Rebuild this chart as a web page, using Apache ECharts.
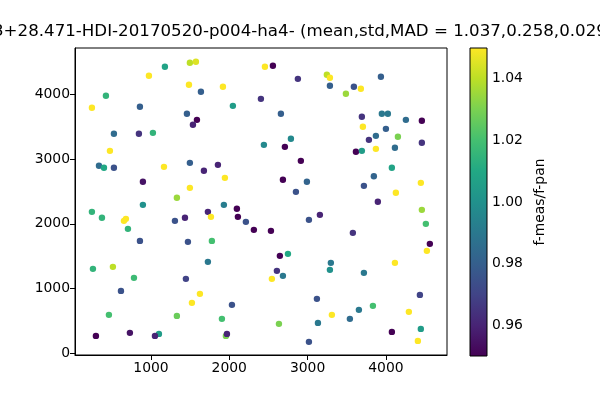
<!DOCTYPE html>
<html>
<head>
<meta charset="utf-8">
<script src="https://cdn.jsdelivr.net/npm/echarts@6/dist/echarts.min.js"></script>
<style>html,body{margin:0;padding:0;background:#fff}#c{width:600px;height:400px}</style>
</head>
<body>
<div id="c"></div>
<script>
// x positions (pixel coords on detector)
var xs = [
 1178,1497,1574,974,425,246,859,1485,1638,1459,1587,1536,527,846,1025,476,336,400,527,1166,1497,897,1497,1331,897,
 2455,2557,2876,3246,1919,2046,2404,2659,2787,2442,2710,2914,1855,1676,1944,2685,2991,2851,1931,
 3285,3285,3936,3591,3680,3489,3693,3948,4025,4255,4459,3706,4000,3872,4153,3783,4459,3617,3693,3872,4115,4076,3846,3719,4446,4127,3897,
 246,374,655,680,706,1306,1434,859,1472,259,514,783,1446,617,1625,1523,463,1331,297,731,1102,1051,
 1727,1766,2097,2110,2212,2314,2532,3017,3157,1778,1727,2646,2749,2608,2544,2685,2034,3119,1906,2634,3132,1957,1970,3017,
 4459,4510,4561,4523,3578,3297,3285,3719,4115,4434,3310,3540,3655,3834,4293,4076,4446,4408
];
var ys = [
 4425,4487,4502,4286,3977,3792,3807,4147,4039,3699,3606,3529,3390,3390,3405,3127,2896,2865,2865,2880,2942,2649,2556,2402,2293,
 4425,4440,4239,4301,4116,3822,3930,3699,3313,3220,3189,2973,2911,2819,2710,2680,2649,2494,2293,
 4255,4131,4270,4116,4085,4008,3653,3699,3699,3606,3591,3498,3467,3359,3344,3297,3251,3112,3127,3158,3174,2865,2734,2587,2633,2479,2340,
 2185,2093,2046,2077,1923,2046,2093,1737,1722,1305,1336,1166,1151,965,919,780,595,579,270,317,301,270,
 2185,2108,2232,2108,2031,1907,1892,2062,2139,1737,1413,1506,1537,1274,1151,1197,749,842,533,456,471,270,301,178,
 2216,2000,1691,1583,1861,1398,1290,1243,1398,903,595,533,672,734,641,332,378,193
];
// f-meas/f-pan ratios
var ratios = [
 1.008,1.04,1.045,1.05,1.015,1.05,0.98,1.05,0.98,0.98,0.95,0.96,0.985,0.965,1.015,1.05,0.985,1.01,0.975,1.05,0.98,0.955,1.05,1.035,1.0,
 1.05,0.95,0.965,1.04,1.05,1.005,0.965,0.98,0.997,0.997,0.95,0.95,0.96,0.96,1.05,0.95,0.982,0.975,0.992,
 1.05,0.98,0.98,0.975,1.05,1.035,0.965,0.99,0.99,0.985,0.95,1.05,0.98,0.985,1.03,0.965,0.965,0.95,1.005,1.05,0.985,1.008,0.982,0.975,1.05,1.05,0.96,
 1.015,1.015,1.05,1.05,1.015,0.975,0.96,0.975,0.975,1.015,1.04,1.018,0.97,0.975,1.05,1.05,1.02,1.027,0.95,0.955,1.005,0.96,
 0.96,1.05,0.95,0.95,0.975,0.95,0.95,0.975,0.96,1.02,0.99,0.95,1.01,0.965,1.05,0.99,0.975,0.975,1.02,1.03,0.99,1.03,0.96,0.975,
 1.035,1.02,0.95,1.05,0.965,0.99,1.0,0.99,1.05,0.97,1.05,0.985,0.99,1.02,1.05,0.95,1.005,1.05
];
var xTicks = [1000,2000,3000,4000];
var yTicks = [0,1000,2000,3000,4000];
var cTicks = [0.96,0.98,1.00,1.02,1.04];
var titleText = '3+28.471-HDI-20170520-p004-ha4- (mean,std,MAD = 1.037,0.258,0.029)';
var cbarLabel = 'f-meas/f-pan';
var viridis = ['#440154','#482475','#414487','#355f8d','#2a788e','#21918c','#22a884','#44bf70','#7ad151','#bddf26','#fde725'];

var data = xs.map(function(x,i){return [x, ys[i], ratios[i]];});
var FONT = 'DejaVu Sans';
var FS = 13.9;
var cb = {left:470, top:48, width:17, height:308};
var stops = viridis.map(function(c,i){return {offset:i/(viridis.length-1), color:c};});
var plain = function(v){return String(Math.round(v));};

var chart = echarts.init(document.getElementById('c'), null, {renderer:'canvas'});
chart.setOption({
  animation:false,
  backgroundColor:'#fff',
  textStyle:{fontFamily:FONT},
  grid:[
    {left:75, top:48, width:372, height:307, show:true, borderColor:'#000', borderWidth:1, backgroundColor:'transparent'},
    {left:cb.left, top:cb.top, width:cb.width, height:cb.height, show:false}
  ],
  xAxis:[
    {gridIndex:0, type:'value', min:30, max:4780,
     axisLine:{show:true, onZero:false, lineStyle:{color:'#000', width:1}},
     axisTick:{show:true, length:5, inside:false, customValues:xTicks, lineStyle:{color:'#000'}},
     axisLabel:{show:true, customValues:xTicks, color:'#000', fontFamily:FONT, fontSize:FS, margin:6, formatter:plain},
     splitLine:{show:false}},
    {gridIndex:1, type:'value', min:0, max:1, show:false}
  ],
  yAxis:[
    {gridIndex:0, type:'value', min:-25, max:4715,
     axisLine:{show:true, onZero:false, lineStyle:{color:'#000', width:1}},
     axisTick:{show:true, length:5, inside:false, customValues:yTicks, lineStyle:{color:'#000'}},
     axisLabel:{show:true, customValues:yTicks, color:'#000', fontFamily:FONT, fontSize:FS, margin:5, formatter:plain},
     splitLine:{show:false}},
    {gridIndex:1, type:'value', min:0.95, max:1.05, position:'right',
     name:cbarLabel, nameLocation:'middle', nameRotate:90, nameGap:46,
     nameTextStyle:{color:'#000', fontFamily:FONT, fontSize:FS},
     axisLine:{show:false},
     axisTick:{show:true, length:5, inside:false, customValues:cTicks, lineStyle:{color:'#000'}},
     axisLabel:{show:true, customValues:cTicks, color:'#000', fontFamily:FONT, fontSize:FS, margin:5,
       formatter:function(v){return v.toFixed(2);}},
     splitLine:{show:false}}
  ],
  visualMap:{show:false, type:'continuous', min:0.95, max:1.05, dimension:2, seriesIndex:0,
    inRange:{color:viridis}},
  graphic:[
    {type:'rect', z:10, shape:{x:cb.left, y:cb.top, width:cb.width, height:cb.height},
     style:{fill:{type:'linear', x:0, y:1, x2:0, y2:0, colorStops:stops}, stroke:'#000', lineWidth:1}},
    {type:'text', z:10, x:-7, y:32, style:{text:titleText, fontFamily:FONT, fontSize:16.67, fill:'#000', textAlign:'left', textVerticalAlign:'middle', verticalAlign:'middle'}}
  ],
  series:[
    {type:'scatter', xAxisIndex:0, yAxisIndex:0, data:data, symbolSize:6.4, itemStyle:{opacity:1}},
    {type:'scatter', xAxisIndex:1, yAxisIndex:1, data:[], silent:true}
  ]
});
</script>
</body>
</html>
